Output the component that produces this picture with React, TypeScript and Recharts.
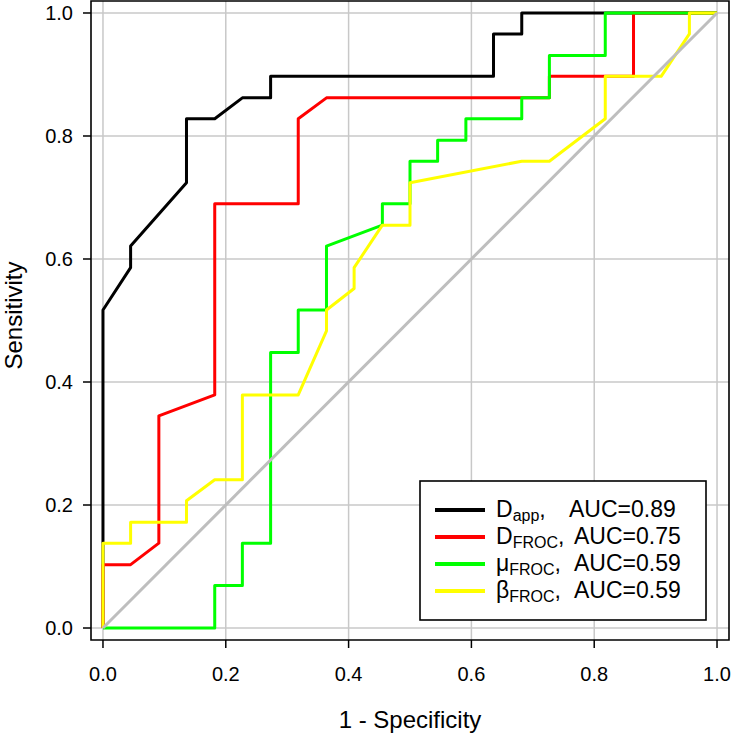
import React from 'react';
import {
  LineChart,
  Line,
  XAxis,
  YAxis,
  CartesianGrid,
  ReferenceArea,
  Label,
} from 'recharts';

const FONT = '"Liberation Sans", Arial, Helvetica, sans-serif';

// ROC curves (false positive rate / true positive rate)
const dAppFpr = [0, 0, 0.045, 0.045, 0.136, 0.136, 0.182, 0.227, 0.273, 0.273, 0.636, 0.636, 0.682, 0.682, 1];
const dAppTpr = [0, 0.517, 0.586, 0.621, 0.724, 0.828, 0.828, 0.862, 0.862, 0.897, 0.897, 0.966, 0.966, 1, 1];

const dFrocFpr = [0, 0, 0.045, 0.091, 0.091, 0.182, 0.182, 0.318, 0.318, 0.364, 0.727, 0.727, 0.864, 0.864, 1];
const dFrocTpr = [0, 0.103, 0.103, 0.138, 0.345, 0.379, 0.69, 0.69, 0.828, 0.862, 0.862, 0.897, 0.897, 1, 1];

const muFrocFpr = [
  0, 0.182, 0.182, 0.227, 0.227, 0.273, 0.273, 0.318, 0.318, 0.364, 0.364, 0.455, 0.455,
  0.5, 0.5, 0.545, 0.545, 0.591, 0.591, 0.682, 0.682, 0.727, 0.727, 0.818, 0.818, 1,
];
const muFrocTpr = [
  0, 0, 0.069, 0.069, 0.138, 0.138, 0.448, 0.448, 0.517, 0.517, 0.621, 0.655, 0.69,
  0.69, 0.759, 0.759, 0.793, 0.793, 0.828, 0.828, 0.862, 0.862, 0.931, 0.931, 1, 1,
];

const betaFrocFpr = [
  0, 0, 0.045, 0.045, 0.136, 0.136, 0.182, 0.227, 0.227, 0.318, 0.364, 0.364, 0.409,
  0.409, 0.455, 0.5, 0.5, 0.682, 0.727, 0.818, 0.818, 0.909, 0.955, 0.955, 1,
];
const betaFrocTpr = [
  0, 0.138, 0.138, 0.172, 0.172, 0.207, 0.241, 0.241, 0.379, 0.379, 0.483, 0.517, 0.552,
  0.586, 0.655, 0.655, 0.724, 0.759, 0.759, 0.828, 0.897, 0.897, 0.966, 1, 1,
];

const chanceFpr = [0, 1];
const chanceTpr = [0, 1];

const ticks = [0, 0.2, 0.4, 0.6, 0.8, 1.0];

const legendNames = ['D', 'D', 'μ', 'β'];
const legendSubs = ['app', 'FROC', 'FROC', 'FROC'];
const legendAuc = ['AUC=0.89', 'AUC=0.75', 'AUC=0.59', 'AUC=0.59'];
const colors = ['#000000', '#ff0000', '#00ff00', '#ffff00'];

const toPoints = (xs: number[], ys: number[]) => xs.map((x, i) => ({ x, y: ys[i] }));

const series = [
  toPoints(dAppFpr, dAppTpr),
  toPoints(dFrocFpr, dFrocTpr),
  toPoints(muFrocFpr, muFrocTpr),
  toPoints(betaFrocFpr, betaFrocTpr),
];
const chance = toPoints(chanceFpr, chanceTpr);

// R pads the axis range by a little on each side
const PAD = 0.0195;
const domain = [-PAD, 1 + PAD];

const fmt = (v: number) => v.toFixed(1);

const YTitle = ({ viewBox }: any) => {
  const cy = viewBox.y + viewBox.height / 2 - 5;
  return (
    <text
      x={22}
      y={cy}
      transform={`rotate(-90 22 ${cy})`}
      textAnchor="middle"
      fontSize={24}
      fontFamily={FONT}
      fill="#000"
    >
      Sensitivity
    </text>
  );
};

const ChartLegend = () => (
  <svg
    width={288}
    height={141}
    style={{ position: 'absolute', left: 419, top: 480 }}
  >
    <rect x={1} y={1} width={286} height={139} fill="#fff" stroke="#000" strokeWidth={1.6} />
    {legendNames.map((name, i) => {
      const base = 37 + i * 27;
      return (
        <g key={i}>
          <line x1={16} x2={66} y1={base - 7} y2={base - 7} stroke={colors[i]} strokeWidth={4} />
          <text x={77} y={base} fontSize={23} fontFamily={FONT} fill="#000">
            <tspan>{name}</tspan>
            <tspan fontSize={16} dy={3.5}>{legendSubs[i]}</tspan>
            <tspan dy={-3.5}>,</tspan>
            <tspan x={i === 0 ? 150 : 155}>{legendAuc[i]}</tspan>
          </text>
        </g>
      );
    })}
  </svg>
);

export default function App() {
  return (
    <div style={{ position: 'absolute', left: 0, top: 0, width: 732, height: 735, background: '#fff' }}>
      <LineChart
        width={732}
        height={735}
        margin={{ top: 1, right: 3, left: 0, bottom: 0 }}
        style={{ fontFamily: FONT }}
      >
        <CartesianGrid
          stroke="#c8c8c8"
          strokeWidth={1.5}
          horizontalValues={ticks}
          verticalValues={ticks}
        />
        <XAxis
          type="number"
          dataKey="x"
          domain={domain}
          ticks={ticks}
          allowDataOverflow
          tickFormatter={fmt}
          height={95}
          axisLine={false}
          tickSize={8}
          tickMargin={19}
          tickLine={{ stroke: '#000', strokeWidth: 1.5 }}
          tick={{ fill: '#000', fontSize: 20, fontFamily: FONT }}
        >
          <Label
            value="1 - Specificity"
            position="insideBottom"
            offset={7}
            fontSize={24}
            fill="#000"
            fontFamily={FONT}
          />
        </XAxis>
        <YAxis
          type="number"
          dataKey="y"
          domain={domain}
          ticks={ticks}
          allowDataOverflow
          tickFormatter={fmt}
          width={91}
          axisLine={false}
          tickSize={8}
          tickMargin={10}
          tickLine={{ stroke: '#000', strokeWidth: 1.5 }}
          tick={{ fill: '#000', fontSize: 20, fontFamily: FONT }}
          label={<YTitle />}
        />
        {series.map((pts, i) => (
          <Line
            key={i}
            data={pts}
            dataKey="y"
            type="linear"
            stroke={colors[i]}
            strokeWidth={3}
            strokeLinejoin="round"
            dot={false}
            activeDot={false}
            isAnimationActive={false}
          />
        ))}
        <Line
          data={chance}
          dataKey="y"
          type="linear"
          stroke="#bebebe"
          strokeWidth={3}
          dot={false}
          activeDot={false}
          isAnimationActive={false}
        />
        <ReferenceArea
          x1={domain[0]}
          x2={domain[1]}
          y1={domain[0]}
          y2={domain[1]}
          fill="none"
          stroke="#000"
          strokeWidth={1.6}
          fillOpacity={0}
        />
      </LineChart>
      <ChartLegend />
    </div>
  );
}
